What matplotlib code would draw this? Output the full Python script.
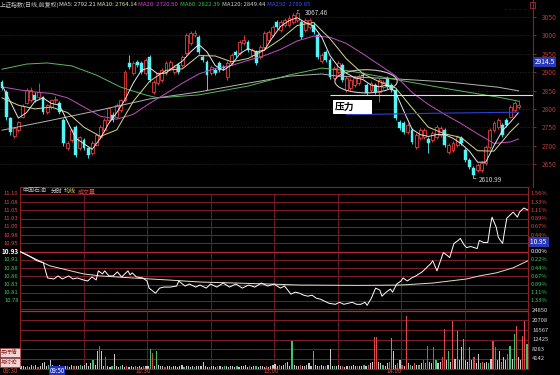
import numpy as np
import matplotlib.pyplot as plt
from matplotlib.patches import Rectangle, Ellipse

plt.rcParams['font.family'] = ['Noto Sans CJK SC', 'DejaVu Sans']

W, H = 560, 375

# ---------------- 上证指数 daily candles ----------------
opens = [2873, 2846, 2775, 2727, 2742, 2778, 2816, 2824, 2838, 2832,
         2832, 2791, 2805, 2824, 2816, 2770, 2693, 2715, 2751, 2693,
         2715, 2693, 2680, 2702, 2723, 2742, 2770, 2783, 2778, 2797,
         2824, 2925, 2897, 2927, 2925, 2897, 2941, 2846, 2870, 2878,
         2897, 2911, 2900, 2919, 2919, 2952, 2979, 3001, 2995, 2941,
         2927, 2897, 2906, 2925, 2914, 2887, 2925, 2955, 2952, 2979,
         2982, 2946, 2955, 2941, 2968, 2987, 3001, 3036, 3014, 3028,
         3028, 3036, 3042, 3036, 3014, 3023, 3028, 3001, 2930, 2955,
         2933, 2884, 2900, 2919, 2851, 2857, 2865, 2870, 2892, 2865,
         2851, 2865, 2846, 2859, 2884, 2865, 2851, 2764, 2761, 2737,
         2742, 2696, 2721, 2723, 2718, 2715, 2723, 2729, 2742, 2683,
         2688, 2702, 2721, 2688, 2661, 2639, 2634, 2634, 2653, 2696,
         2742, 2751, 2756, 2770, 2778, 2797, 2806]
closes = [2857, 2778, 2737, 2748, 2764, 2808, 2851, 2851, 2824, 2846,
          2791, 2810, 2824, 2826, 2791, 2707, 2707, 2742, 2674, 2723,
          2693, 2674, 2707, 2729, 2751, 2770, 2802, 2770, 2810, 2824,
          2900, 2914, 2925, 2919, 2900, 2933, 2878, 2873, 2897, 2906,
          2925, 2927, 2914, 2900, 2941, 3001, 3006, 3006, 2955, 2933,
          2892, 2914, 2897, 2906, 2911, 2925, 2946, 2946, 2982, 2987,
          2960, 2960, 2925, 2968, 3006, 3009, 3023, 3023, 3036, 3042,
          3047, 3055, 3060, 2995, 3042, 3042, 3009, 2941, 2946, 2933,
          2887, 2911, 2925, 2878, 2884, 2878, 2884, 2889, 2889, 2843,
          2870, 2846, 2878, 2873, 2859, 2851, 2775, 2748, 2737, 2756,
          2710, 2729, 2742, 2742, 2707, 2734, 2751, 2748, 2702, 2702,
          2707, 2723, 2707, 2661, 2642, 2620, 2647, 2653, 2696, 2742,
          2761, 2770, 2729, 2756, 2805, 2816, 2811]
highs = [2878, 2851, 2778, 2752, 2768, 2812, 2857, 2860, 2845, 2870,
         2836, 2814, 2828, 2836, 2822, 2775, 2712, 2746, 2756, 2727,
         2721, 2696, 2712, 2734, 2756, 2775, 2806, 2791, 2815, 2828,
         2906, 2946, 2930, 2933, 2930, 2938, 2946, 2878, 2900, 2911,
         2930, 2933, 2919, 2925, 2946, 3006, 3012, 3014, 3001, 2946,
         2933, 2919, 2911, 2930, 2919, 2930, 2952, 2960, 2987, 3001,
         2987, 2965, 2960, 2974, 3012, 3014, 3028, 3042, 3042, 3047,
         3055, 3060, 3067.46, 3042, 3047, 3047, 3036, 3006, 2952, 2960,
         2938, 2916, 2930, 2925, 2890, 2884, 2890, 2895, 2900, 2870,
         2876, 2870, 2884, 2878, 2889, 2870, 2857, 2770, 2766, 2761,
         2748, 2734, 2748, 2748, 2723, 2740, 2756, 2753, 2748, 2707,
         2712, 2729, 2726, 2693, 2666, 2645, 2653, 2658, 2702, 2748,
         2766, 2775, 2761, 2775, 2810, 2822, 2825]
lows = [2851, 2770, 2730, 2722, 2738, 2775, 2812, 2820, 2820, 2828,
        2786, 2786, 2800, 2816, 2786, 2700, 2688, 2710, 2669, 2688,
        2688, 2666, 2675, 2698, 2718, 2738, 2766, 2764, 2775, 2792,
        2820, 2908, 2892, 2914, 2895, 2892, 2873, 2840, 2865, 2873,
        2892, 2906, 2895, 2895, 2914, 2946, 2974, 2995, 2950, 2927,
        2851, 2892, 2892, 2900, 2906, 2878, 2919, 2941, 2946, 2974,
        2955, 2941, 2919, 2936, 2963, 2982, 2995, 3017, 3009, 3023,
        3023, 3030, 3036, 2990, 3009, 3017, 3003, 2936, 2925, 2927,
        2882, 2878, 2895, 2873, 2846, 2851, 2860, 2865, 2884, 2838,
        2846, 2840, 2819, 2854, 2854, 2846, 2770, 2742, 2732, 2732,
        2705, 2691, 2715, 2718, 2680, 2710, 2718, 2724, 2696, 2678,
        2683, 2696, 2702, 2656, 2636, 2610.99, 2628, 2628, 2647, 2691,
        2737, 2745, 2724, 2751, 2775, 2792, 2800]

ma5_i = list(range(0, 127, 2))
ma5 = [2865, 2820, 2775, 2790, 2820, 2830, 2815, 2810, 2765, 2720,
       2705, 2690, 2720, 2760, 2790, 2825, 2870, 2905, 2912, 2895,
       2898, 2915, 2930, 2955, 2975, 2955, 2918, 2905, 2920, 2950,
       2964, 2955, 2960, 2995, 3025, 3040, 3048, 3035, 3025, 2995,
       2945, 2915, 2897, 2885, 2880, 2865, 2860, 2865, 2845, 2794,
       2745, 2730, 2725, 2730, 2730, 2720, 2705, 2685, 2655, 2655,
       2700, 2740, 2764, 2790]
ma10_i = list(range(0, 125, 4)) + [126]
ma10 = [2830, 2810, 2800, 2805, 2790, 2750, 2725, 2743, 2820, 2875,
        2905, 2909, 2945, 2944, 2928, 2937, 2960, 2990, 3027, 3035,
        2991, 2936, 2896, 2874, 2857, 2803, 2750, 2732, 2722, 2686,
        2685, 2738, 2760]
ma20_i = ma10_i
ma20 = [2860, 2852, 2846, 2842, 2830, 2805, 2780, 2772, 2785, 2815,
        2842, 2870, 2895, 2910, 2918, 2932, 2945, 2962, 2985, 2998,
        2995, 2978, 2950, 2920, 2890, 2845, 2812, 2785, 2760, 2732,
        2706, 2710, 2718]
ma60_i = [0, 6, 11, 17, 23, 29, 35, 38, 48, 60, 70, 78, 85, 97, 109, 121, 126]
ma60 = [2908, 2922, 2925, 2917, 2892, 2859, 2838, 2830, 2838, 2862,
        2892, 2911, 2903, 2878, 2854, 2832, 2821]
ma120_i = [0, 12, 24, 36, 48, 60, 70, 78, 82, 97, 109, 121, 126]
ma120 = [2742, 2769, 2797, 2827, 2846, 2870, 2889, 2895, 2889, 2881,
         2873, 2859, 2849]
ma250_i = [84, 105, 126]
ma250 = [2784, 2788, 2791]
pressure_level = 2838
k_levels = [3050, 3000, 2950, 2900, 2850, 2800, 2750, 2700, 2650]

# ---------------- 中国石油 intraday ----------------
preclose = 10.93
price_t = [0, 1, 4, 8, 11, 13, 16, 18, 20, 23, 25, 27, 30, 32, 34, 36, 37, 39,
           40, 42, 44, 46, 48, 51, 52, 53, 55, 58, 60, 61, 64, 66, 68, 71, 74,
           75, 78, 80, 83, 85, 88, 90, 93, 96, 99, 102, 105, 108, 111, 114,
           117, 120, 123, 125, 128, 130, 132, 134, 136, 138, 140, 142, 144,
           146, 149, 151, 153, 155, 157, 159, 161, 163, 164, 166, 168, 170,
           171, 173, 175, 176, 178, 180, 181, 183, 185, 187, 190, 192, 194,
           195, 197, 200, 202, 203, 205, 207, 208, 210, 211, 213, 216, 217,
           219, 221, 222, 223, 225, 226, 228, 229, 230, 233, 235, 236, 238, 240]
price_v = [10.930, 10.927, 10.918, 10.903, 10.897, 10.852, 10.849, 10.858,
           10.849, 10.858, 10.849, 10.852, 10.846, 10.843, 10.855, 10.846,
           10.873, 10.864, 10.873, 10.858, 10.858, 10.870, 10.855, 10.873,
           10.861, 10.867, 10.855, 10.852, 10.843, 10.822, 10.807, 10.822,
           10.825, 10.825, 10.828, 10.843, 10.828, 10.834, 10.825, 10.831,
           10.822, 10.834, 10.825, 10.837, 10.825, 10.834, 10.822, 10.831,
           10.825, 10.837, 10.828, 10.834, 10.822, 10.828, 10.804, 10.810,
           10.807, 10.801, 10.798, 10.801, 10.792, 10.789, 10.783, 10.777,
           10.774, 10.780, 10.774, 10.777, 10.780, 10.774, 10.774, 10.780,
           10.771, 10.792, 10.822, 10.816, 10.798, 10.810, 10.819, 10.810,
           10.834, 10.843, 10.852, 10.843, 10.852, 10.858, 10.870, 10.882,
           10.894, 10.903, 10.873, 10.927, 10.918, 10.912, 10.954, 10.963,
           10.969, 10.948, 10.942, 10.945, 10.939, 10.963, 10.957, 10.957,
           10.999, 11.032, 11.002, 10.972, 10.954, 10.993, 11.029, 11.047,
           11.032, 11.047, 11.059, 11.053]
avg_t = [0, 6, 14, 22, 30, 38, 53, 70, 85, 118, 132, 160, 180, 195, 211, 217,
         225, 233, 240]
avg_v = [10.930, 10.912, 10.888, 10.876, 10.864, 10.858, 10.852, 10.846,
         10.840, 10.834, 10.831, 10.830, 10.831, 10.837, 10.849, 10.858,
         10.867, 10.882, 10.903]

vol = [1300, 1000, 800, 1200, 900, 1500, 1100, 1700, 900, 1300, 2200, 3000, 1200, 1500, 3900, 1700, 1300, 1000, 1500, 1200,
       900, 1300, 1100, 800, 1500, 1200, 1000, 1300, 1700, 1200, 1500, 2600, 1300, 2200, 3900, 1500, 7400, 9600, 7400, 1300,
       4800, 1200, 900, 1300, 6100, 1100, 800, 1000, 1700, 900, 1200, 800, 1000, 700, 1100, 900, 1300, 800, 1000, 1200,
       1000, 8300, 6500, 1300, 7400, 1500, 1000, 1200, 900, 1100, 1300, 800, 1000, 1200, 900, 1100, 1700, 900, 1200, 1000,
       800, 1100, 900, 1300, 1000, 1200, 3000, 1100, 900, 800, 1200, 1000, 900, 1300, 1100, 800, 1000, 1200, 900, 1100,
       1000, 800, 1200, 900, 1100, 1000, 1700, 900, 1200, 800, 1000, 1100, 900, 1200, 1000, 800, 1300, 900, 1100, 1500,
       2000, 1300, 1700, 1200, 1500, 2200, 3000, 1300, 11800, 1500, 1200, 1000, 1700, 1300, 1100, 1500, 2200, 1200, 7400, 1500,
       1300, 1100, 1500, 1000, 1200, 1700, 8300, 1300, 1100, 1200, 1500, 1000, 1200, 900, 1300, 1100, 1000, 1500, 1200, 1000,
       1300, 1000, 1500, 1200, 1700, 2200, 3000, 13500, 13500, 3000, 2200, 1500, 1300, 2600, 3000, 13100, 7400, 1700, 2200, 3900,
       1500, 1300, 22700, 2600, 1700, 1300, 2200, 1500, 1700, 2600, 3500, 2200, 9600, 3000, 2600, 9200, 3900, 2200, 3000, 5200,
       17000, 3500, 7400, 3000, 20500, 4300, 16100, 3500, 9200, 12600, 3900, 3000, 9200, 3500, 4800, 2600, 6100, 2200, 3000, 2600,
       3000, 2200, 4300, 11800, 9200, 3500, 7400, 3000, 5200, 3500, 6100, 9600, 4300, 14800, 18300, 5200, 3900, 14000, 20500, 10500]
vol_dir = ("wwwgwwgwrwwwwgwwgwww" "wwgwwrwwgwwwwwgwwrww" "rwwgwwwgwwrwwwgwwwrw"
           "wgrwgwwwrwwgwwwwwgww" "wwgwwwwwwgwwwrwwgwww" "wwgwwwwwrwwgwwwwrwww"
           "wwrwwgwwgwwwrwwwwwgw" "wgwwrwwwgwwwrwwgwwwr" "wwgwrwwrrwwgwwrgwwrw"
           "rwrwgwrwgwrgrwwrgwwr" "rwgwrwgwwgwwgwrwwgrw" "wgwrrwwgwwrgwgrwwrrg")

price_labels = ['11.10', '11.08', '11.05', '11.03', '11.00', '10.98', '10.95',
                '10.93', '10.91', '10.88', '10.86', '10.83', '10.81', '10.78']
pct_labels = ['1.56%', '1.33%', '1.11%', '0.89%', '0.67%', '0.44%', '',
              '0.00%', '0.22%', '0.44%', '0.67%', '0.89%', '1.11%', '1.33%']
vol_labels = ['24850', '20708', '16567', '12425', '8283', '4142']
vol_levels = [24850, 20708, 16567, 12425, 8283, 4142]

# ---------------- figure ----------------
fig = plt.figure(figsize=(5.6, 3.75), dpi=100, facecolor='black')


def ftext(x, y, s, **kw):
    kw.setdefault('va', 'center')
    fig.text(x / W, 1 - y / H, s, **kw)


GRID = '#7e1e2a'
BRIGHT = '#b8283a'
LRED = '#e04848'
LGREEN = '#3cc84c'

# upper panel
ax = fig.add_axes([0, 1 - 187 / H, 533 / W, 187 / H])
ax.set_facecolor('black')
ax.set_xlim(-2 / 4.1, 531 / 4.1)
ax.set_ylim(2587.4, 3096.3)
for lv in k_levels:
    ax.axhline(lv, color='#2a2a2a', lw=0.5, ls=(0, (2, 2)), zorder=1)

idx = np.arange(len(closes))
o, c, hi, lo = map(np.array, (opens, closes, highs, lows))
up = c >= o
red, cyan = '#ff4040', '#52f5f5'
ax.vlines(idx, lo, hi, colors=[red if u else cyan for u in up], lw=0.6, zorder=3)
body_lo = np.minimum(o, c)
body_h = np.maximum(np.abs(c - o), 2.0)
ax.bar(idx[up], body_h[up], bottom=body_lo[up], width=0.7, facecolor='black',
       edgecolor=red, lw=0.55, zorder=4)
ax.bar(idx[~up], body_h[~up], bottom=body_lo[~up], width=0.7, facecolor=cyan,
       edgecolor=cyan, lw=0.3, zorder=4)

ax.plot(ma120_i, ma120, color='#b4b4b4', lw=0.7, zorder=5)
ax.plot(ma60_i, ma60, color='#5cb85c', lw=0.7, zorder=5)
ax.plot(ma20_i, ma20, color='#c050c0', lw=0.7, zorder=5)
ax.plot(ma10_i, ma10, color='#d8d890', lw=0.7, zorder=5)
ax.plot(ma5_i, ma5, color='#e8e8e8', lw=0.7, zorder=5)
ax.plot(ma250_i, ma250, color='#3040d0', lw=0.8, zorder=5)
ax.hlines(pressure_level, 80, 131, color='#e0e0e0', lw=0.8, zorder=5)

ax.add_patch(Ellipse((88.8, 2875), 15.2, 63, fill=False, edgecolor='#c8c8c8',
                     lw=0.8, zorder=6))
ax.add_patch(Rectangle((80.7, 2786), 9.5, 38, facecolor='white', edgecolor='none',
                       zorder=7))
ax.text(81.1, 2805, '压力', fontsize=7, fontweight='bold', color='black',
        va='center', style='italic', zorder=8)

ax.annotate('3067.46', xy=(72, 3067.46), xytext=(73.8, 3062), fontsize=4.6,
            color='#d0d0d0', va='center',
            arrowprops=dict(arrowstyle='-', color='#d0d0d0', lw=0.5), zorder=8)
ax.annotate('2610.99', xy=(115, 2610.99), xytext=(116.3, 2607), fontsize=4.6,
            color='#d0d0d0', va='center',
            arrowprops=dict(arrowstyle='-', color='#d0d0d0', lw=0.5), zorder=8)

ax.yaxis.tick_right()
ax.set_yticks(k_levels)
ax.set_yticklabels([str(v) for v in k_levels])
ax.tick_params(axis='y', colors='#b03c3c', labelsize=4.8, length=2.5, width=0.5, pad=4)
ax.tick_params(axis='x', bottom=False, labelbottom=False)
for s in ['left', 'top', 'bottom']:
    ax.spines[s].set_visible(False)
ax.spines['right'].set_color('#8c2020')
ax.spines['right'].set_linewidth(0.8)

# legend line
ftext(0, 5, '上证指数(日线,前复权)', color='#c8c8c8', fontsize=4.3)
ftext(59, 5, 'MA5: 2792.21', color='#e8e8e8', fontsize=4.3)
ftext(97, 5, 'MA10: 2764.14', color='#e0e0a8', fontsize=4.3)
ftext(138, 5, 'MA20: 2720.50', color='#e040e0', fontsize=4.3)
ftext(180, 5, 'MA60: 2822.39', color='#40c040', fontsize=4.3)
ftext(222, 5, 'MA120: 2849.44', color='#d0d0d0', fontsize=4.3)
ftext(267, 5, 'MA250: 2789.85', color='#3050ff', fontsize=4.3)
ftext(503, 10, '• • • • •', color='#b060d0', fontsize=3)
fig.add_artist(Rectangle((530 / W, 1 - 8 / H), 5 / W, 6 / H, fill=False,
                         edgecolor='#a03030', lw=0.6, transform=fig.transFigure))
ftext(535, 62, '2914.5', color='white', fontsize=4.8,
      bbox=dict(facecolor='#2838b8', edgecolor='none', pad=0.8))

# lower panel: price
step = preclose * 0.0156 / 7
p_top = preclose + (251.6 - 187) / 8.23 * step
p_bot = preclose - (310 - 251.6) / 8.23 * step
axp = fig.add_axes([20 / W, 1 - 310 / H, 508 / W, 123 / H])
axp.set_facecolor('black')
axp.set_xlim(0, 240)
axp.set_ylim(p_bot, p_top)
levels = [preclose + step * k for k in range(7, -8, -1)]
axp.hlines(levels, 0, 240, color=GRID, lw=0.7, zorder=1)
axp.hlines(preclose, 0, 240, color=BRIGHT, lw=0.9, zorder=1)
half_hours = [30, 60, 90, 120, 150, 180, 210]
axp.vlines(half_hours, levels[-1], levels[0], color=GRID, lw=0.6, zorder=1)
axp.plot(avg_t, avg_v, color='#e0e0c8', lw=0.7, zorder=3)
axp.plot(price_t, price_v, color='white', lw=0.7, zorder=4)
axp.set_xticks([])
axp.set_yticks([])
axp.spines['bottom'].set_visible(False)
for s in ['left', 'top', 'right']:
    axp.spines[s].set_color('#8c2020')
    axp.spines[s].set_linewidth(0.8)

lab_colors = [LRED] * 7 + ['white'] + [LGREEN] * 6
for lv, lab, col in zip(levels, price_labels, lab_colors):
    axp.text(-0.003, lv, lab, transform=axp.get_yaxis_transform(), ha='right',
             va='center', fontsize=4.6 if lab == '10.93' else 4.2, color=col,
             fontweight='bold' if lab == '10.93' else 'normal')
for lv, lab, col in zip(levels, pct_labels, lab_colors):
    if lab:
        axp.text(1.005, lv, lab, transform=axp.get_yaxis_transform(), ha='left',
                 va='center', fontsize=4.2, color=col)

ftext(22, 191, '中国石油', color='#c0c0c0', fontsize=4.3)
ftext(51, 191, '分时', color='#e0e0e0', fontsize=4.3)
ftext(64, 191, '均线', color='#d8d860', fontsize=4.3)
ftext(78, 191, '成交量', color=LRED, fontsize=4.3)
ftext(530, 242, '10.95 ', color='white', fontsize=4.6,
      bbox=dict(facecolor='#2838b8', edgecolor='none', pad=0.8))

# lower panel: volume
axv = fig.add_axes([20 / W, 1 - 368.6 / H, 508 / W, 58.6 / H])
axv.set_facecolor('black')
axv.set_xlim(0, 240)
axv.set_ylim(0, 25200)
axv.hlines(vol_levels, 0, 240, color=GRID, lw=0.7, zorder=1)
axv.hlines(vol_levels[0], 0, 240, color=BRIGHT, lw=0.9, zorder=1)
axv.vlines(half_hours, 0, 25200, color=GRID, lw=0.6, zorder=1)
dir_colors = {'r': '#e04848', 'g': '#40c070', 'w': '#c8c8c8'}
axv.bar(np.arange(240) + 0.5, vol, width=0.55,
        color=[dir_colors[d] for d in vol_dir], zorder=3)
axv.set_xticks([])
axv.set_yticks([])
axv.spines['top'].set_visible(False)
for s in ['left', 'bottom', 'right']:
    axv.spines[s].set_color('#8c2020')
    axv.spines[s].set_linewidth(0.8)
for v, lab in zip(vol_levels, vol_labels):
    axv.text(1.008, v, lab, transform=axv.get_yaxis_transform(), ha='left',
             va='center', fontsize=4.2, color='#d8d8d8')

# time axis
for x, lab in [(10, '09:30'), (143, '10:30'), (271, '13:00'), (394, '14:00')]:
    ftext(x, 371, lab, color='#d05040', fontsize=4.4, ha='center')
ftext(57, 371, '09:50', color='white', fontsize=4.4, ha='center',
      bbox=dict(facecolor='#2430c0', edgecolor='none', pad=0.6))

# side buttons
for y, lab in [(352, '买行情'), (362, '与讨论')]:
    fig.add_artist(Rectangle((0, 1 - (y + 4.5) / H), 20 / W, 9 / H,
                             facecolor='#f2d4d4', edgecolor='#a04040', lw=0.4,
                             transform=fig.transFigure))
    ftext(1, y, lab, color='#902020', fontsize=4.0)

fig.savefig('out.png', dpi=100, facecolor='black')
